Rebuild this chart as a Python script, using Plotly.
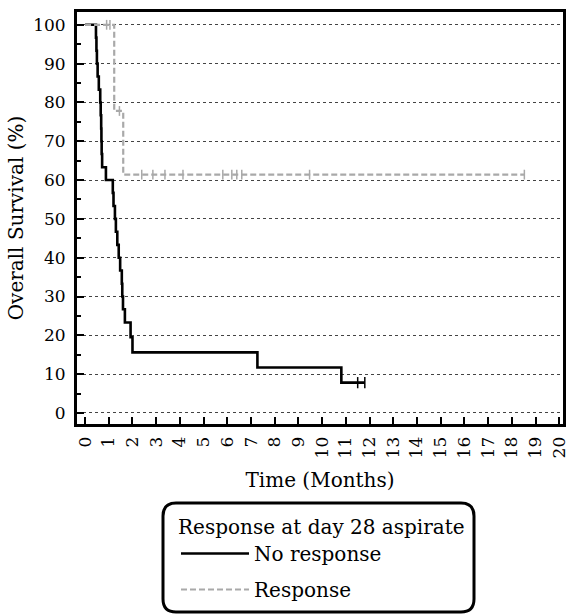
import plotly.graph_objects as go

# ---- data ----
nr_time = [0, 0.46, 0.48, 0.50, 0.53, 0.58, 0.64, 0.66, 0.68, 0.69, 0.70, 0.72, 0.88,
           1.17, 1.20, 1.26, 1.30, 1.36, 1.42, 1.48, 1.55, 1.57, 1.60, 1.68, 1.92, 2.00,
           7.27, 10.81, 11.80]
nr_surv = [100, 96.7, 93.3, 90.0, 86.7, 83.3, 80.0, 76.7, 73.3, 70.0, 66.7, 63.3, 60.0,
           56.7, 53.3, 50.0, 46.7, 43.3, 40.0, 36.7, 33.3, 30.0, 26.7, 23.3, 19.5, 15.6,
           11.7, 7.8, 7.8]
nr_cens_time = [11.50, 11.80]
nr_cens_surv = [7.8, 7.8]

r_time = [0, 1.23, 1.61, 18.53]
r_surv = [100, 77.8, 61.4, 61.4]
r_cens_time = [0.91, 1.05, 1.45, 2.39, 2.86, 3.37, 4.13, 5.81, 6.19, 6.40, 6.61, 9.47, 18.53]
r_cens_surv = [100, 100, 77.8, 61.4, 61.4, 61.4, 61.4, 61.4, 61.4, 61.4, 61.4, 61.4, 61.4]

x_ticks = list(range(0, 21))
y_ticks = list(range(0, 101, 10))

legend_title = "Response at day 28 aspirate"
series_names = ["No response", "Response"]

FONT = "DejaVu Serif, serif"
TICK_SIZE = 17
TITLE_SIZE = 20
BLACK = "#000000"
GREY = "#a9a9a9"

fig = go.Figure()
fig.add_trace(go.Scatter(x=nr_time, y=nr_surv, mode="lines", line_shape="hv",
                         line=dict(color=BLACK, width=2.6), name=series_names[0],
                         legendgroup="g1"))
fig.add_trace(go.Scatter(x=r_time, y=r_surv, mode="lines", line_shape="hv",
                         line=dict(color=GREY, width=2.2, dash="6px,3px"), name=series_names[1],
                         legendgroup="g2"))
fig.add_trace(go.Scatter(x=nr_cens_time, y=nr_cens_surv, mode="markers", showlegend=False,
                         marker=dict(symbol="line-ns-open", size=8, color=BLACK,
                                     line=dict(color=BLACK, width=1.5)),
                         hoverinfo="skip", legendgroup="g1"))
fig.add_trace(go.Scatter(x=r_cens_time, y=r_cens_surv, mode="markers", showlegend=False,
                         marker=dict(symbol="line-ns-open", size=7, color=GREY,
                                     line=dict(color=GREY, width=1.5)),
                         hoverinfo="skip", legendgroup="g2"))

W, H = 567, 615
L, R, T, B = 77, 4, 12, 191

# rounded legend frame (paper coords)
pw, ph = W - L - R, H - T - B
def px2x(p): return (p - L) / pw
def py2y(p): return (H - B - p) / ph
x0, x1 = px2x(163), px2x(474)
y0, y1 = py2y(503), py2y(612)
rx, ry = 13 / pw, 13 / ph
path = (f"M{x0+rx},{y0} L{x1-rx},{y0} Q{x1},{y0} {x1},{y0-ry} "
        f"L{x1},{y1+ry} Q{x1},{y1} {x1-rx},{y1} L{x0+rx},{y1} Q{x0},{y1} {x0},{y1+ry} "
        f"L{x0},{y0-ry} Q{x0},{y0} {x0+rx},{y0} Z")
fig.add_shape(type="path", path=path, xref="paper", yref="paper",
              line=dict(color=BLACK, width=3), fillcolor="rgba(0,0,0,0)")

fig.update_layout(
    width=W, height=H,
    margin=dict(l=L, r=R, t=T, b=B),
    paper_bgcolor="white", plot_bgcolor="white",
    font=dict(family=FONT, color=BLACK, size=TICK_SIZE),
    showlegend=True,
    legend=dict(x=px2x(176), y=py2y(508), xanchor="left", yanchor="top",
                title=dict(text=legend_title, font=dict(size=TITLE_SIZE, family=FONT), side="top"),
                font=dict(size=TITLE_SIZE, family=FONT), bgcolor="rgba(0,0,0,0)",
                tracegroupgap=7, itemwidth=68),
)
fig.update_xaxes(
    range=[-0.34, 20.16], tickmode="array", tickvals=x_ticks, ticktext=[str(v) for v in x_ticks],
    tickangle=-90, ticks="inside", ticklen=7, tickwidth=2, tickcolor=BLACK,
    showline=True, linewidth=3, linecolor=BLACK, mirror=True, showgrid=False, zeroline=False,
    tickfont=dict(size=TICK_SIZE, family=FONT), ticklabelstandoff=3, ticklabeloverflow="allow",
    automargin=False,
    title=dict(text="Time (Months)", font=dict(size=TITLE_SIZE, family=FONT), standoff=16),
)
fig.update_yaxes(
    range=[-2.85, 103.3], tickmode="array", tickvals=y_ticks, ticktext=[str(v) for v in y_ticks],
    ticks="inside", ticklen=7, tickwidth=2, tickcolor=BLACK,
    minor=dict(dtick=5, tick0=0, ticks="inside", ticklen=4, tickwidth=1.5, tickcolor=BLACK, showgrid=False),
    showline=True, linewidth=3, linecolor=BLACK, mirror=True,
    showgrid=True, gridcolor="#444444", gridwidth=1, griddash="3px,3px", zeroline=False,
    tickfont=dict(size=TICK_SIZE, family=FONT), ticklabelstandoff=5, automargin=False,
    title=dict(text="Overall Survival (%)", font=dict(size=TITLE_SIZE, family=FONT), standoff=5),
)

fig.write_html("out.html")
